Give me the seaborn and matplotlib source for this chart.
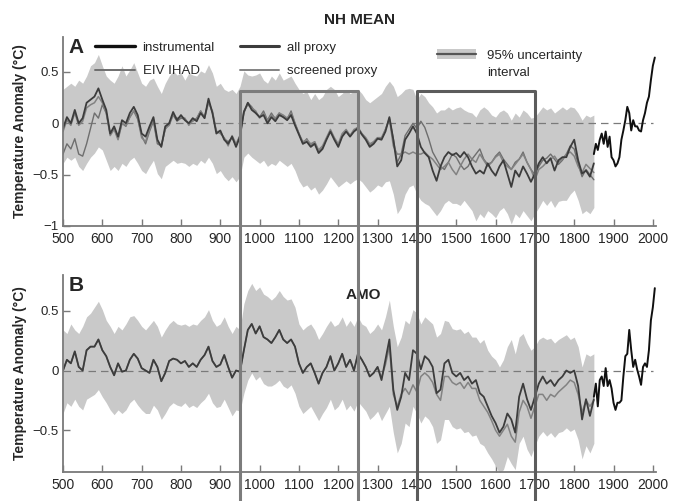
import numpy as np
import seaborn as sns
import matplotlib.pyplot as plt
from matplotlib.lines import Line2D
from matplotlib.patches import Patch
from matplotlib import transforms

sns.set_theme(style="white")
plt.rcParams['font.family'] = ['Liberation Sans', 'DejaVu Sans']

# decadal proxy grid and instrumental (5-yr) grid
years = np.arange(500, 1851, 10)
inst_years = np.arange(1850, 2006, 5)

# ---- panel A: NH mean ----
a_all = [
    -0.05, 0.06, 0.00, 0.13, 0.00, 0.05, 0.20, 0.23, 0.26, 0.34,
    0.23, 0.13, -0.10, -0.03, -0.13, 0.03, 0.00, 0.10, 0.16, 0.08,
    -0.10, -0.13, -0.03, 0.06, -0.16, -0.23, -0.03, 0.00, 0.11, 0.03,
    0.08, 0.03, 0.00, 0.05, 0.02, 0.10, 0.05, 0.24, 0.10, -0.10,
    -0.07, -0.16, -0.20, -0.13, -0.23, -0.13, 0.11, 0.20, 0.13, 0.10,
    0.06, 0.08, 0.00, 0.06, 0.02, 0.08, 0.06, 0.03, 0.08, -0.02,
    -0.11, -0.20, -0.18, -0.23, -0.20, -0.29, -0.25, -0.16, -0.08, -0.16,
    -0.23, -0.13, -0.08, -0.13, -0.08, -0.05, -0.11, -0.16, -0.23, -0.20,
    -0.15, -0.16, -0.08, 0.06, -0.16, -0.42, -0.36, -0.16, -0.10, -0.03,
    -0.10, -0.23, -0.29, -0.33, -0.46, -0.56, -0.42, -0.33, -0.28, -0.31,
    -0.29, -0.33, -0.28, -0.33, -0.42, -0.49, -0.46, -0.49, -0.39, -0.46,
    -0.51, -0.42, -0.36, -0.49, -0.62, -0.46, -0.52, -0.42, -0.49, -0.57,
    -0.49, -0.39, -0.33, -0.39, -0.34, -0.46, -0.36, -0.33, -0.33, -0.23,
    -0.16, -0.36, -0.49, -0.46, -0.52, -0.39,
]
a_screened = [
    -0.08, 0.03, -0.02, 0.10, -0.02, 0.02, 0.15, 0.18, 0.20, 0.26,
    0.20, 0.10, -0.12, -0.06, -0.16, 0.00, -0.02, 0.06, 0.12, 0.05,
    -0.14, -0.18, -0.06, 0.04, -0.18, -0.22, -0.05, -0.02, 0.08, 0.05,
    0.06, 0.05, -0.02, 0.03, 0.04, 0.12, 0.05, 0.20, 0.12, -0.08,
    -0.10, -0.14, -0.22, -0.12, -0.20, -0.12, 0.12, 0.18, 0.15, 0.12,
    0.05, 0.10, 0.02, 0.08, 0.05, 0.10, 0.08, 0.05, 0.10, 0.00,
    -0.10, -0.18, -0.16, -0.20, -0.18, -0.26, -0.22, -0.14, -0.06, -0.14,
    -0.20, -0.10, -0.06, -0.12, -0.06, -0.04, -0.10, -0.14, -0.20, -0.18,
    -0.14, -0.14, -0.06, 0.04, -0.22, -0.30, -0.30, -0.28, -0.30, -0.28,
    -0.30, -0.30, -0.28, -0.32, -0.35, -0.40, -0.45, -0.42, -0.38, -0.45,
    -0.50, -0.42, -0.35, -0.30, -0.35, -0.38, -0.30, -0.36, -0.42, -0.38,
    -0.33, -0.30, -0.38, -0.42, -0.45, -0.40, -0.35, -0.30, -0.38, -0.45,
    -0.55, -0.45, -0.42, -0.38, -0.35, -0.32, -0.38, -0.35, -0.30, -0.28,
    -0.32, -0.42, -0.48, -0.40, -0.44, -0.48,
]
a_eiv = [
    -0.30, -0.20, -0.25, -0.15, -0.30, -0.32, -0.20, -0.05, 0.10, 0.05,
    0.18, 0.10, -0.10, -0.05, -0.15, 0.00, -0.03, 0.06, 0.12, 0.04,
    -0.12, -0.20, -0.08, 0.02, -0.20, -0.22, -0.06, 0.00, 0.08, 0.02,
    0.05, 0.04, 0.00, 0.02, 0.05, 0.12, 0.06, 0.22, 0.10, -0.08,
    -0.08, -0.15, -0.18, -0.14, -0.22, -0.12, 0.10, 0.20, 0.16, 0.10,
    0.06, 0.12, 0.03, 0.10, 0.04, 0.10, 0.06, 0.04, 0.12, 0.00,
    -0.10, -0.20, -0.15, -0.22, -0.18, -0.28, -0.24, -0.15, -0.07, -0.15,
    -0.22, -0.12, -0.07, -0.12, -0.07, -0.04, -0.10, -0.15, -0.22, -0.18,
    -0.14, -0.15, -0.06, 0.05, -0.15, -0.38, -0.30, -0.12, -0.06, 0.00,
    -0.05, 0.02, -0.04, -0.15, -0.28, -0.35, -0.42, -0.45, -0.38, -0.30,
    -0.33, -0.40, -0.45, -0.42, -0.35, -0.30, -0.25, -0.35, -0.40, -0.38,
    -0.32, -0.28, -0.35, -0.40, -0.45, -0.38, -0.35, -0.28, -0.38, -0.45,
    -0.50, -0.42, -0.36, -0.34, -0.30, -0.35, -0.40, -0.36, -0.30, -0.22,
    -0.25, -0.40, -0.52, -0.45, -0.50, -0.55,
]
a_upper = [
    0.33, 0.36, 0.39, 0.36, 0.42, 0.39, 0.46, 0.56, 0.59, 0.67,
    0.56, 0.46, 0.42, 0.39, 0.46, 0.56, 0.46, 0.52, 0.59, 0.49,
    0.39, 0.36, 0.42, 0.44, 0.36, 0.29, 0.39, 0.46, 0.51, 0.47,
    0.49, 0.42, 0.49, 0.47, 0.46, 0.51, 0.49, 0.57, 0.49, 0.36,
    0.39, 0.33, 0.31, 0.33, 0.29, 0.36, 0.51, 0.47, 0.46, 0.47,
    0.49, 0.42, 0.39, 0.46, 0.42, 0.49, 0.42, 0.44, 0.46, 0.39,
    0.33, 0.29, 0.31, 0.23, 0.29, 0.23, 0.26, 0.33, 0.36, 0.33,
    0.26, 0.29, 0.33, 0.29, 0.31, 0.33, 0.29, 0.23, 0.20, 0.23,
    0.26, 0.29, 0.36, 0.41, 0.36, 0.26, 0.29, 0.33, 0.34, 0.33,
    0.23, 0.29, 0.26, 0.20, 0.16, 0.10, 0.13, 0.13, 0.16, 0.13,
    0.15, 0.16, 0.13, 0.11, 0.10, 0.06, 0.13, 0.16, 0.13, 0.08,
    0.06, 0.11, 0.13, 0.10, 0.03, 0.10, 0.06, 0.13, 0.10, 0.05,
    0.06, 0.11, 0.16, 0.13, 0.15, 0.10, 0.13, 0.16, 0.13, 0.16,
    0.15, 0.10, 0.03, 0.08, 0.06, 0.08,
]
a_lower = [
    -0.39, -0.33, -0.36, -0.33, -0.42, -0.46, -0.39, -0.33, -0.29, -0.23,
    -0.26, -0.36, -0.46, -0.42, -0.46, -0.39, -0.42, -0.36, -0.33, -0.39,
    -0.46, -0.49, -0.42, -0.36, -0.49, -0.54, -0.42, -0.39, -0.36, -0.39,
    -0.38, -0.39, -0.42, -0.39, -0.41, -0.36, -0.39, -0.33, -0.39, -0.49,
    -0.46, -0.52, -0.56, -0.52, -0.57, -0.52, -0.33, -0.29, -0.33, -0.36,
    -0.39, -0.36, -0.42, -0.39, -0.41, -0.36, -0.39, -0.42, -0.39, -0.46,
    -0.56, -0.62, -0.60, -0.65, -0.62, -0.69, -0.65, -0.59, -0.52, -0.57,
    -0.62, -0.59, -0.56, -0.59, -0.56, -0.54, -0.57, -0.62, -0.67, -0.64,
    -0.60, -0.62, -0.57, -0.56, -0.69, -0.88, -0.82, -0.69, -0.62, -0.60,
    -0.69, -0.75, -0.78, -0.80, -0.85, -0.90, -0.85, -0.78, -0.75, -0.78,
    -0.78, -0.80, -0.75, -0.80, -0.85, -0.95, -0.88, -0.92, -0.85, -0.88,
    -0.92, -0.85, -0.82, -0.88, -0.98, -0.88, -0.92, -0.85, -0.90, -0.95,
    -0.88, -0.82, -0.75, -0.80, -0.75, -0.82, -0.76, -0.75, -0.75, -0.69,
    -0.65, -0.75, -0.88, -0.85, -0.88, -0.82,
]
a_instrumental = [
    -0.30, -0.20, -0.26, -0.16, -0.10, -0.20, -0.08, -0.23, -0.13, -0.33,
    -0.36, -0.42, -0.39, -0.33, -0.16, -0.07, 0.03, 0.16, 0.10, -0.07,
    0.03, -0.03, -0.03, -0.07, -0.08, 0.03, 0.10, 0.20, 0.26, 0.42,
    0.56, 0.64,
]

# ---- panel B: AMO ----
b_all = [
    0.00, 0.09, 0.06, 0.16, 0.03, 0.00, 0.17, 0.20, 0.20, 0.26,
    0.17, 0.12, 0.03, -0.04, 0.06, -0.01, 0.00, 0.09, 0.14, 0.10,
    0.02, 0.00, -0.02, 0.09, 0.03, -0.09, -0.02, 0.08, 0.10, 0.09,
    0.06, 0.08, 0.03, 0.06, 0.03, 0.09, 0.13, 0.20, 0.08, 0.03,
    0.05, 0.13, 0.03, -0.06, 0.00, -0.01, 0.17, 0.34, 0.39, 0.31,
    0.37, 0.28, 0.26, 0.23, 0.28, 0.34, 0.26, 0.23, 0.26, 0.20,
    0.06, -0.02, 0.03, 0.06, -0.02, -0.11, -0.02, 0.03, 0.12, 0.00,
    0.06, 0.14, 0.03, 0.09, 0.00, 0.14, 0.09, 0.03, -0.05, -0.02,
    0.03, -0.08, 0.09, 0.26, -0.16, -0.33, -0.22, -0.02, -0.08, 0.17,
    0.14, 0.01, 0.12, 0.09, 0.03, -0.19, -0.16, 0.06, 0.09, -0.02,
    -0.05, -0.02, -0.08, -0.05, -0.11, -0.08, -0.19, -0.22, -0.30, -0.38,
    -0.44, -0.52, -0.47, -0.36, -0.41, -0.52, -0.22, -0.11, -0.24, -0.33,
    -0.22, -0.11, -0.05, -0.11, -0.08, -0.13, -0.08, -0.05, 0.00, -0.02,
    0.00, -0.13, -0.41, -0.24, -0.38, -0.24,
]
b_screened = [
    0.00, 0.09, 0.06, 0.16, 0.03, 0.00, 0.17, 0.20, 0.20, 0.26,
    0.17, 0.12, 0.03, -0.04, 0.06, -0.01, 0.00, 0.09, 0.14, 0.10,
    0.02, 0.00, -0.02, 0.09, 0.03, -0.09, -0.02, 0.08, 0.10, 0.09,
    0.06, 0.08, 0.03, 0.06, 0.03, 0.09, 0.13, 0.20, 0.08, 0.03,
    0.05, 0.13, 0.03, -0.06, 0.00, -0.01, 0.17, 0.34, 0.39, 0.31,
    0.37, 0.28, 0.26, 0.23, 0.28, 0.34, 0.26, 0.23, 0.26, 0.20,
    0.06, -0.02, 0.03, 0.06, -0.02, -0.11, -0.02, 0.03, 0.12, 0.00,
    0.06, 0.14, 0.03, 0.09, 0.00, 0.14, 0.09, 0.03, -0.05, -0.02,
    0.03, -0.06, 0.05, 0.20, -0.20, -0.30, -0.20, -0.15, -0.20, -0.12,
    -0.18, -0.05, -0.02, -0.05, -0.10, -0.20, -0.25, -0.05, -0.05, -0.10,
    -0.12, -0.10, -0.15, -0.10, -0.15, -0.15, -0.25, -0.30, -0.35, -0.42,
    -0.50, -0.55, -0.50, -0.45, -0.55, -0.60, -0.35, -0.25, -0.30, -0.40,
    -0.30, -0.20, -0.20, -0.25, -0.20, -0.22, -0.18, -0.15, -0.12, -0.08,
    -0.10, -0.20, -0.35, -0.25, -0.30, -0.25,
]
b_upper = [
    0.34, 0.31, 0.39, 0.34, 0.31, 0.37, 0.45, 0.48, 0.53, 0.58,
    0.51, 0.42, 0.37, 0.31, 0.37, 0.34, 0.39, 0.45, 0.46, 0.42,
    0.37, 0.34, 0.38, 0.42, 0.37, 0.28, 0.34, 0.39, 0.42, 0.39,
    0.38, 0.39, 0.37, 0.39, 0.38, 0.42, 0.45, 0.51, 0.42, 0.37,
    0.39, 0.45, 0.37, 0.31, 0.37, 0.34, 0.56, 0.67, 0.73, 0.67,
    0.70, 0.64, 0.62, 0.59, 0.62, 0.67, 0.62, 0.59, 0.60, 0.53,
    0.39, 0.34, 0.37, 0.39, 0.34, 0.26, 0.31, 0.37, 0.42, 0.37,
    0.39, 0.45, 0.37, 0.42, 0.37, 0.45, 0.39, 0.37, 0.31, 0.34,
    0.39, 0.34, 0.45, 0.59, 0.37, 0.20, 0.28, 0.42, 0.39, 0.51,
    0.48, 0.39, 0.45, 0.42, 0.39, 0.28, 0.31, 0.42, 0.41, 0.35,
    0.34, 0.35, 0.31, 0.33, 0.28, 0.28, 0.23, 0.26, 0.17, 0.12,
    0.09, 0.03, 0.09, 0.20, 0.26, 0.14, 0.28, 0.31, 0.23, 0.17,
    0.20, 0.26, 0.28, 0.26, 0.27, 0.23, 0.26, 0.28, 0.30, 0.26,
    0.28, 0.20, 0.03, 0.14, 0.12, 0.14,
]
b_lower = [
    -0.36, -0.27, -0.30, -0.24, -0.30, -0.33, -0.24, -0.22, -0.20, -0.16,
    -0.22, -0.27, -0.33, -0.37, -0.33, -0.36, -0.33, -0.27, -0.24, -0.29,
    -0.33, -0.36, -0.36, -0.29, -0.33, -0.41, -0.36, -0.30, -0.27, -0.29,
    -0.30, -0.27, -0.31, -0.29, -0.31, -0.27, -0.24, -0.19, -0.27, -0.31,
    -0.30, -0.24, -0.31, -0.38, -0.33, -0.34, -0.19, -0.08, -0.02, -0.08,
    -0.05, -0.11, -0.13, -0.13, -0.11, -0.08, -0.13, -0.15, -0.12, -0.19,
    -0.30, -0.36, -0.33, -0.30, -0.36, -0.42, -0.36, -0.31, -0.24, -0.33,
    -0.30, -0.24, -0.33, -0.29, -0.34, -0.26, -0.30, -0.34, -0.41, -0.38,
    -0.34, -0.42, -0.36, -0.30, -0.52, -0.69, -0.61, -0.44, -0.47, -0.30,
    -0.36, -0.44, -0.38, -0.41, -0.47, -0.61, -0.58, -0.41, -0.41, -0.47,
    -0.49, -0.48, -0.52, -0.51, -0.55, -0.54, -0.61, -0.63, -0.69, -0.74,
    -0.80, -0.86, -0.83, -0.72, -0.78, -0.83, -0.61, -0.55, -0.66, -0.72,
    -0.63, -0.55, -0.51, -0.55, -0.52, -0.56, -0.52, -0.51, -0.48, -0.51,
    -0.49, -0.58, -0.74, -0.63, -0.69, -0.61,
]
b_instrumental = [
    -0.22, -0.11, -0.30, -0.08, -0.05, -0.13, 0.02, -0.13, -0.08, -0.15,
    -0.27, -0.33, -0.27, -0.27, -0.25, -0.05, 0.12, 0.14, 0.34, 0.17,
    0.03, 0.09, 0.01, -0.05, -0.12, 0.03, 0.06, 0.03, 0.17, 0.42,
    0.53, 0.69,
]

# highlighted periods (start, end) and top of the frames in panel A units
periods = [(950, 1250), (1400, 1700)]
period_colors = ['#7c7c7c', '#5c5c5c']
frame_top = 0.31

band_col = '#c9c9c9'
dark_col = '#3c3c3c'
screen_col = '#828282'
eiv_col = '#6e6e6e'
axis_col = '#7a7a7a'

fig = plt.figure(figsize=(6.76, 5.01), dpi=100)
ax_a = fig.add_axes([63 / 676, 1 - 226 / 501, 593 / 676, 189 / 501])
ax_b = fig.add_axes([63 / 676, 1 - 472 / 501, 593 / 676, 197 / 501])


def draw_panel(ax, lower, upper, series, inst, ylim, yticks, yticklabels):
    ax.fill_between(years, lower, upper, color=band_col, linewidth=0, zorder=1)
    ax.hlines(0, 500, 2000, colors='#7a7a7a', linestyles=(0, (6, 4)),
              linewidth=0.9, zorder=1.5)
    for vals, col, lw in series:
        sns.lineplot(x=years, y=vals, ax=ax, color=col, linewidth=lw, zorder=2)
    sns.lineplot(x=inst_years, y=inst, ax=ax, color='#101010', linewidth=1.4, zorder=3)
    ax.set_xlim(500, 2008)
    ax.set_ylim(*ylim)
    ax.set_xticks(range(500, 2001, 100))
    ax.set_yticks(yticks)
    ax.set_yticklabels(yticklabels)
    ax.set_xlabel('')
    ax.set_ylabel('Temperature Anomaly (°C)', fontsize=10, fontweight='bold')
    ax.yaxis.set_label_coords(-0.06, 0.5)
    for side in ['top', 'right']:
        ax.spines[side].set_visible(False)
    for side in ['left', 'bottom']:
        ax.spines[side].set_color(axis_col)
        ax.spines[side].set_linewidth(1.3)
    ax.tick_params(direction='in', length=5, width=1, color=axis_col,
                   labelsize=10, pad=4, bottom=True, left=True)
    ax.tick_params(axis='y', labelsize=9.5, pad=3)
    ax.patch.set_alpha(0)


draw_panel(ax_a, a_lower, a_upper,
           [(a_eiv, eiv_col, 1.0), (a_screened, screen_col, 1.1), (a_all, dark_col, 1.3)],
           a_instrumental, (-1.0, 0.84), [-1, -0.5, 0, 0.5], ['\u22121', '\u22120.5', '0', '0.5'])
draw_panel(ax_b, b_lower, b_upper,
           [(b_screened, screen_col, 1.1), (b_all, dark_col, 1.3)],
           b_instrumental, (-0.85, 0.8), [-0.5, 0, 0.5], ['\u22120.5', '0', '0.5'])

ax_a.text(0.01, 0.995, 'A', transform=ax_a.transAxes, fontsize=15, fontweight='bold',
          va='top', ha='left')
ax_b.text(0.01, 0.995, 'B', transform=ax_b.transAxes, fontsize=15, fontweight='bold',
          va='top', ha='left')
fig.text(0.532, 0.96, 'NH MEAN', fontsize=11, fontweight='bold', ha='center', va='center')
ax_b.text(1265, 0.63, 'AMO', fontsize=11, fontweight='bold', ha='center', va='center')

# legend (panel A)
handles = [
    Line2D([], [], color='#111111', linewidth=2.4),
    Line2D([], [], color=eiv_col, linewidth=1.4),
    Line2D([], [], color=dark_col, linewidth=2.2),
    Line2D([], [], color=screen_col, linewidth=1.4),
]
labels = ['instrumental', 'EIV IHAD', 'all proxy', 'screened proxy']
leg = ax_a.legend(handles, labels, ncol=2, loc='upper left', bbox_to_anchor=(0.054, 0.976),
                  frameon=False, fontsize=9.5, handlelength=3.0, handletextpad=0.6,
                  labelspacing=0.86, columnspacing=1.9, borderpad=0, borderaxespad=0)
ax_a.add_artist(leg)
unc_handles = [(Patch(facecolor=band_col, edgecolor='none'),
                Line2D([], [], color='#555555', linewidth=1.6)),
               Line2D([], [], color='none')]
ax_a.legend(unc_handles, ['95% uncertainty', 'interval'], loc='upper left',
            bbox_to_anchor=(0.631, 0.939), frameon=False, fontsize=9.5,
            handlelength=2.95, handleheight=0.9, handletextpad=0.83,
            labelspacing=0.33, borderpad=0, borderaxespad=0)

# frames for the two periods, spanning both panels
fig.canvas.draw()
top_disp = ax_a.transData.transform((periods[0][0], frame_top))
top_fig = fig.transFigure.inverted().transform(top_disp)[1]
trans = transforms.blended_transform_factory(ax_b.transData, fig.transFigure)
for (x0, x1), col in zip(periods, period_colors):
    fig.add_artist(Line2D([x0, x0, x1, x1], [-0.02, top_fig, top_fig, -0.02],
                          transform=trans, color=col, linewidth=2.2, zorder=5))

fig.savefig('out.png', dpi=100)
